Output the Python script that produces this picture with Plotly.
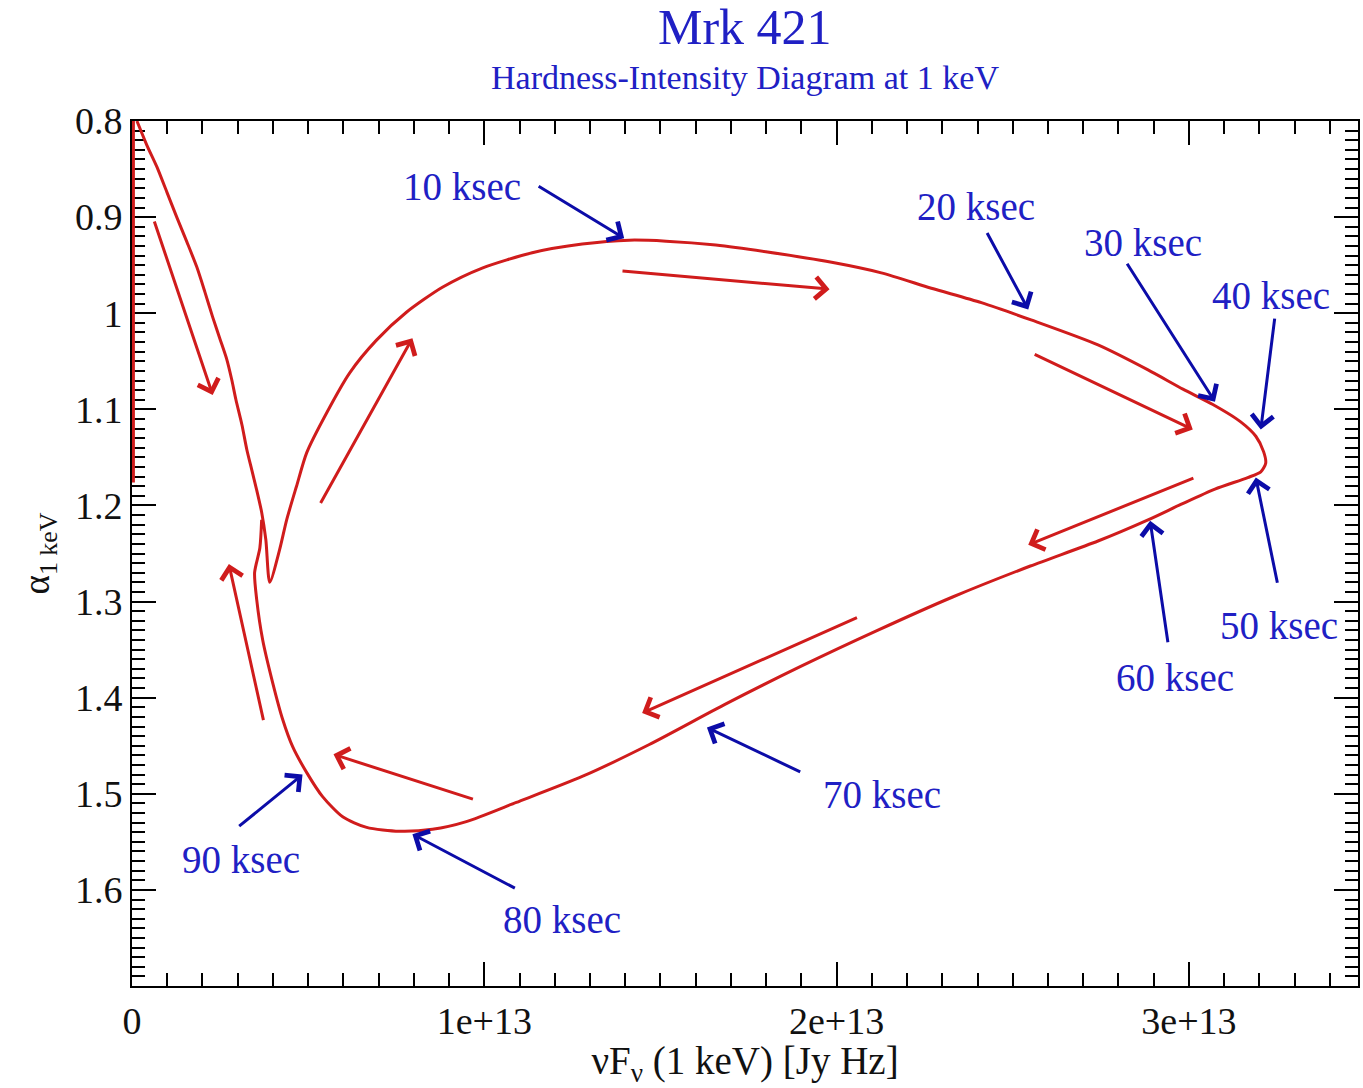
import plotly.graph_objects as go

E13 = 1e13  # flux values below are in units of 1e13 Jy Hz

# Early part of the run, lying along the alpha axis (flux ~ 0)
early_flux = [0.004, 0.004]
early_alpha = [1.176, 0.800]

# Hardness-intensity track: nuF_nu at 1 keV vs. spectral index alpha
track_flux = [0.014, 0.042, 0.071, 0.099, 0.127, 0.156, 0.184, 0.207, 0.229, 0.249,
              0.269, 0.283, 0.295, 0.312, 0.326, 0.340, 0.354, 0.368, 0.380, 0.391,
              0.419, 0.439, 0.467, 0.496, 0.552, 0.618, 0.694, 0.779, 0.881, 0.994,
              1.136, 1.278, 1.411, 1.516, 1.657, 1.799, 1.986, 2.127, 2.269, 2.411,
              2.552, 2.742, 2.884, 2.983, 3.068, 3.147, 3.190, 3.212, 3.218, 3.204,
              3.167, 3.074, 2.977, 2.884, 2.742, 2.550, 2.331, 2.116, 1.901, 1.683,
              1.467, 1.278, 1.091, 0.949, 0.853, 0.759, 0.666, 0.598, 0.541, 0.496,
              0.456, 0.428, 0.399, 0.371, 0.354, 0.348, 0.363, 0.368]
track_alpha = [0.800, 0.825, 0.848, 0.874, 0.900, 0.926, 0.952, 0.978, 1.004, 1.026,
               1.048, 1.069, 1.090, 1.116, 1.142, 1.163, 1.184, 1.207, 1.236, 1.280,
               1.246, 1.215, 1.180, 1.145, 1.104, 1.062, 1.028, 0.999, 0.973, 0.953,
               0.937, 0.928, 0.924, 0.925, 0.929, 0.936, 0.947, 0.958, 0.974, 0.989,
               1.007, 1.033, 1.059, 1.079, 1.095, 1.113, 1.128, 1.144, 1.156, 1.165,
               1.171, 1.183, 1.199, 1.215, 1.237, 1.263, 1.295, 1.330, 1.367, 1.407,
               1.449, 1.482, 1.509, 1.529, 1.537, 1.539, 1.535, 1.524, 1.503, 1.478,
               1.451, 1.423, 1.384, 1.340, 1.298, 1.270, 1.244, 1.215]

# Time markers along the track
time_labels = ["10 ksec", "20 ksec", "30 ksec", "40 ksec", "50 ksec",
               "60 ksec", "70 ksec", "80 ksec", "90 ksec"]
time_tip_flux = [1.397, 2.544, 3.074, 3.204, 3.190, 2.890, 1.632, 0.796, 0.484]
time_tip_alpha = [0.922, 0.996, 1.092, 1.121, 1.171, 1.216, 1.431, 1.542, 1.480]
time_tail_flux = [1.150, 2.425, 2.822, 3.244, 3.252, 2.941, 1.901, 1.091, 0.300]
time_tail_alpha = [0.867, 0.915, 0.947, 1.004, 1.282, 1.344, 1.478, 1.599, 1.535]
time_text_flux = [0.938, 2.397, 2.870, 3.232, 3.255, 2.960, 2.130, 1.221, 0.309]
time_text_alpha = [0.868, 0.889, 0.926, 0.982, 1.325, 1.379, 1.501, 1.631, 1.568]

# Direction-of-travel arrows
dir_tail_flux = [0.062, 0.533, 1.388, 2.558, 3.017, 2.062, 0.972, 0.374]
dir_tail_alpha = [0.903, 1.199, 0.956, 1.042, 1.171, 1.316, 1.506, 1.425]
dir_tip_flux = [0.229, 0.796, 1.980, 3.011, 2.544, 1.448, 0.572, 0.275]
dir_tip_alpha = [1.085, 1.026, 0.975, 1.121, 1.241, 1.416, 1.459, 1.261]

x_tickvals = [0, 1, 2, 3]
x_ticktext = ["0", "1e+13", "2e+13", "3e+13"]
y_tickvals = [0.8, 0.9, 1.0, 1.1, 1.2, 1.3, 1.4, 1.5, 1.6]
y_ticktext = ["0.8", "0.9", "1", "1.1", "1.2", "1.3", "1.4", "1.5", "1.6"]

RED = "#d01c1c"
BLUE_TXT = "#2020c4"
BLUE_ARR = "#0c0ca8"
SERIF = "Liberation Serif, Times New Roman, serif"

fig = go.Figure()
fig.add_trace(go.Scatter(
    x=[v * E13 for v in early_flux], y=early_alpha, mode="lines",
    line=dict(color=RED, width=3), hoverinfo="skip", showlegend=False,
))
fig.add_trace(go.Scatter(
    x=[v * E13 for v in track_flux], y=track_alpha, mode="lines",
    line=dict(color=RED, width=3, shape="spline", smoothing=0.7),
    hoverinfo="skip", showlegend=False,
))

annotations = []
for fx, fy, tx, ty in zip(dir_tip_flux, dir_tip_alpha, dir_tail_flux, dir_tail_alpha):
    annotations.append(dict(
        x=fx * E13, y=fy, ax=tx * E13, ay=ty, xref="x", yref="y", axref="x", ayref="y",
        text="", showarrow=True, arrowhead=4, arrowsize=1.4, arrowwidth=3,
        arrowcolor=RED, standoff=0, startstandoff=0,
    ))
for lab, fx, fy, tx, ty, lx, ly in zip(time_labels, time_tip_flux, time_tip_alpha,
                                       time_tail_flux, time_tail_alpha,
                                       time_text_flux, time_text_alpha):
    annotations.append(dict(
        x=fx * E13, y=fy, ax=tx * E13, ay=ty, xref="x", yref="y", axref="x", ayref="y",
        text="", showarrow=True, arrowhead=4, arrowsize=1.4, arrowwidth=3,
        arrowcolor=BLUE_ARR, standoff=0, startstandoff=0,
    ))
    annotations.append(dict(
        x=lx * E13, y=ly, xref="x", yref="y", text=lab, showarrow=False,
        font=dict(family=SERIF, size=39, color=BLUE_TXT),
        xanchor="center", yanchor="middle",
    ))

# Title and subtitle
annotations.append(dict(
    x=0.5, y=1, xref="paper", yref="paper", yshift=64, text="Mrk 421",
    showarrow=False, font=dict(family=SERIF, size=50, color=BLUE_TXT),
    xanchor="center", yanchor="bottom",
))
annotations.append(dict(
    x=0.5, y=1, xref="paper", yref="paper", yshift=23, text="Hardness-Intensity Diagram at 1 keV",
    showarrow=False, font=dict(family=SERIF, size=34, color=BLUE_TXT),
    xanchor="center", yanchor="bottom",
))

axis_common = dict(
    showline=True, linecolor="black", linewidth=2, mirror="allticks",
    ticks="inside", tickcolor="black", tickwidth=2, ticklen=24,
    showgrid=False, zeroline=False,
    tickfont=dict(family=SERIF, size=38, color="#111111"),
    layer="below traces",
)

fig.update_layout(
    width=1363, height=1088,
    margin=dict(l=132, r=3, t=121, b=102),
    paper_bgcolor="white", plot_bgcolor="white",
    annotations=annotations,
    xaxis=dict(
        range=[0, 3.48 * E13], autorange=False,
        tickmode="array", tickvals=[v * E13 for v in x_tickvals], ticktext=x_ticktext,
        minor=dict(tickmode="linear", tick0=0, dtick=0.1 * E13, ticks="inside",
                   ticklen=13, tickwidth=2, tickcolor="black"),
        title=dict(text="\u03bdF<sub>\u03bd</sub> (1 keV) [Jy Hz]",
                   font=dict(family=SERIF, size=39, color="#111111"), standoff=2),
        **axis_common,
    ),
    yaxis=dict(
        range=[1.7, 0.8], autorange=False,
        tickmode="array", tickvals=y_tickvals, ticktext=y_ticktext,
        minor=dict(tickmode="linear", tick0=0.8, dtick=0.01, ticks="inside",
                   ticklen=13, tickwidth=2, tickcolor="black"),
        title=dict(text="\u03b1<sub>1 keV</sub>",
                   font=dict(family=SERIF, size=37, color="#111111"), standoff=14),
        **axis_common,
    ),
)

fig.write_html("out.html")
